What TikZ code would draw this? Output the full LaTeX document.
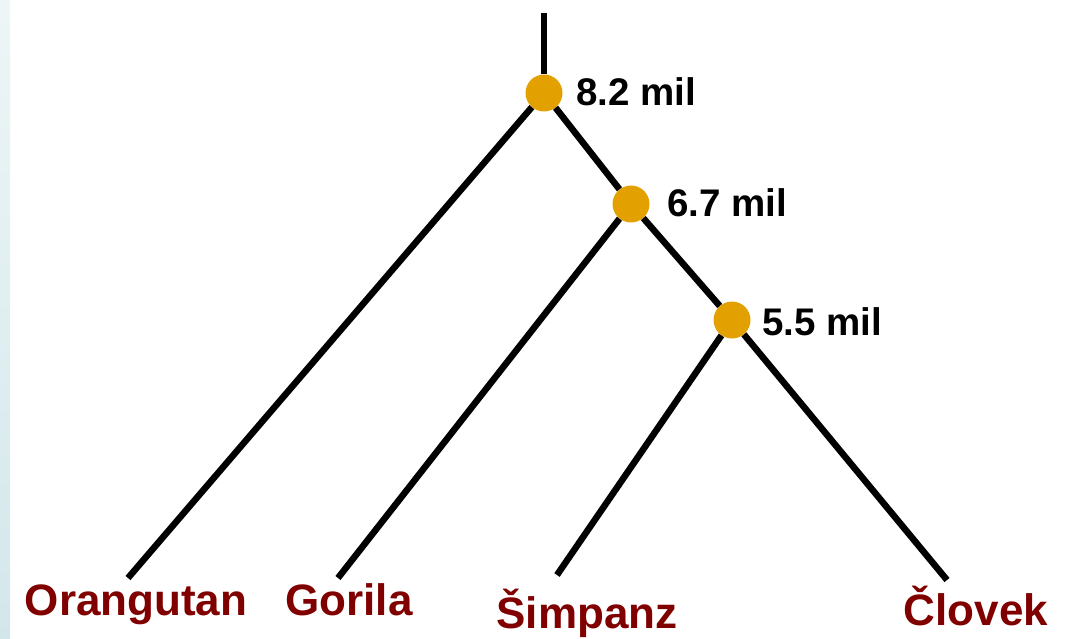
\documentclass[tikz,border=0pt]{standalone}
\usepackage{fontspec}
\setmainfont{Liberation Sans}
\definecolor{splitgold}{RGB}{226,161,0}
\definecolor{taxonred}{RGB}{128,0,0}
\definecolor{stripblue}{RGB}{211,231,234}

\begin{document}
\begin{tikzpicture}[x=1pt,y=-1pt,
	split/.style={circle,fill=splitgold,inner sep=0pt,minimum size=37pt},
	age/.style={anchor=base west,inner sep=0pt,font=\fontsize{38.5}{44}\selectfont\bfseries},
	taxon/.style={anchor=base,inner sep=0pt,text=taxonred,font=\fontsize{44}{50}\selectfont\bfseries}]
	\useasboundingbox (0,0) rectangle (1084,639);
	\shade[top color=white!60!stripblue,bottom color=stripblue] (0,0) rectangle (10,639);
	% splits
	\node[split] (n82) at (544,93) {};
	\node[split] (n67) at (631,204) {};
	\node[split] (n55) at (732,320) {};
	\node[age] (a82) at (576,106) {8.2 mil};
	\node[age] (a67) at (667,217) {6.7 mil};
	\node[age] (a55) at (762,335) {5.5 mil};
	% branch ends
	\coordinate (root) at (544,13);
	\coordinate (orangEnd) at (128,578);
	\coordinate (gorEnd) at (338,578);
	\coordinate (chimpEnd) at (557,575);
	\coordinate (humanEnd) at (947,580);
	\foreach \u/\v in {root/n82, n82/n67, n82/orangEnd, n67/n55, n67/gorEnd, n55/chimpEnd, n55/humanEnd} {\draw[line width=6.5pt] (\u) -- (\v);}
	% taxa
	\node[taxon] (orang) at (136,615) {Orangutan};
	\node[taxon] (gor) at (349,615) {Gorila};
	\node[taxon] (chimp) at (587,628) {Šimpanz};
	\node[taxon] (human) at (976,625) {Človek};
\end{tikzpicture}
\end{document}
